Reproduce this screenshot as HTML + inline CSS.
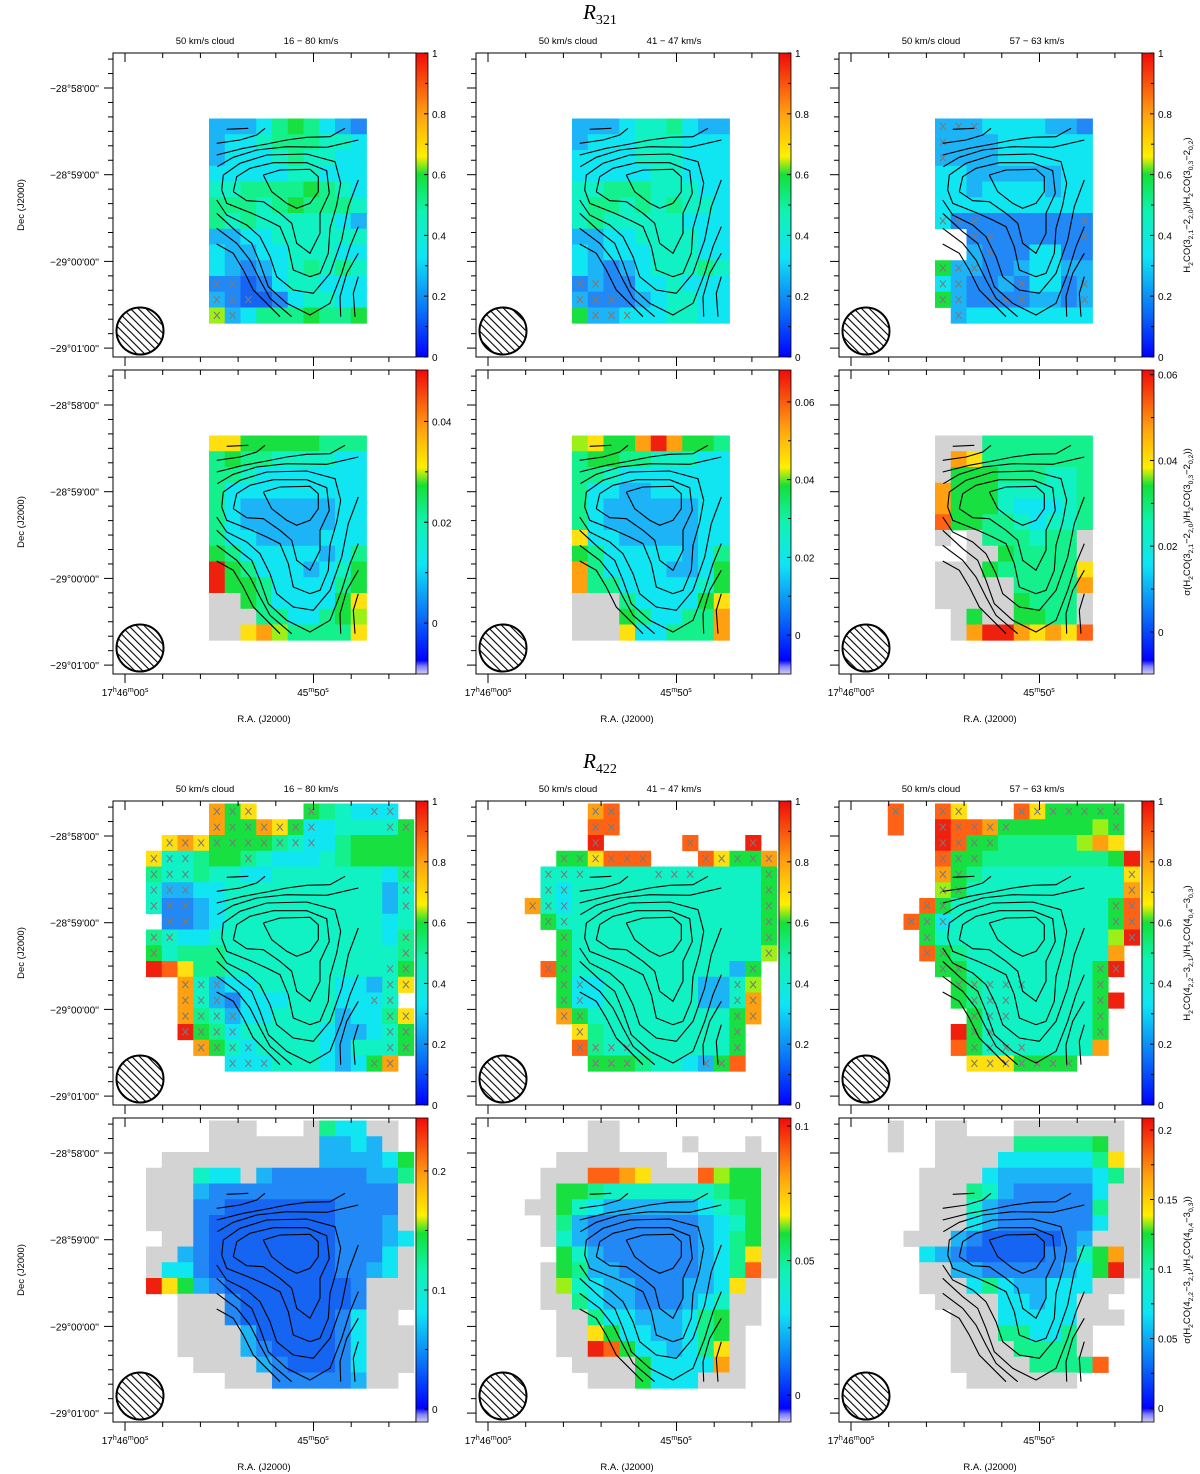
<!DOCTYPE html>
<html><head><meta charset="utf-8"><title>R321 / R422 ratio maps</title>
<style>
html,body{margin:0;padding:0;background:#fff;}
svg{display:block;font-family:"Liberation Sans",sans-serif;}
text{fill:#000;}
</style></head>
<body>
<svg id="fig" width="1200" height="1474" viewBox="0 0 1200 1474" xmlns="http://www.w3.org/2000/svg">
<defs>
<pattern id="hatch" patternUnits="userSpaceOnUse" width="5.5" height="5.5" patternTransform="rotate(-45)">
<rect width="5.5" height="5.5" fill="#fff"/><line x1="0" y1="0" x2="0" y2="5.5" stroke="#000" stroke-width="2.2"/>
</pattern>
<linearGradient id="cmap" x1="0" y1="1" x2="0" y2="0">
<stop offset="0" stop-color="#0000ff"/><stop offset="0.15" stop-color="#0a70f8"/><stop offset="0.33" stop-color="#10e4f4"/>
<stop offset="0.48" stop-color="#10f2b0"/><stop offset="0.6" stop-color="#14e038"/><stop offset="0.66" stop-color="#fff000"/>
<stop offset="0.8" stop-color="#ffa010"/><stop offset="1" stop-color="#f00a0a"/>
</linearGradient>
<linearGradient id="cmapS" x1="0" y1="1" x2="0" y2="0">
<stop offset="0" stop-color="#d0d0f0"/><stop offset="0.025" stop-color="#8080ff"/><stop offset="0.045" stop-color="#0000ff"/>
<stop offset="0.19" stop-color="#0a70f8"/><stop offset="0.36" stop-color="#10e4f4"/><stop offset="0.5" stop-color="#10f2b0"/>
<stop offset="0.62" stop-color="#14e038"/><stop offset="0.68" stop-color="#fff000"/><stop offset="0.81" stop-color="#ffa010"/><stop offset="1" stop-color="#f00a0a"/>
</linearGradient>
</defs>
<g id="layer"></g>
</svg>
<script>
// ---------- data: cell colour-level codes per panel (row "startCol:codes", spaces ignored) ----------
const gridR321a = ["","","","","6:lllcagacld","6:lcctaaattc","6:lccctattcc","6:cccccttccc","6:ttaaaagatc","6:aaatagaaat","6:atatttttcl","6:llcctttttt","6:cllcctttcc","6:cldlctatat","6:ddbdcttccc","6:ldbbdcttcc","6:hlcaaagaag"];
const gridR321b = ["","","","","6:lllcttacll","6:lccctttccc","6:cccctttccc","6:cccccttccc","6:ttaaatttcc","6:taatatattc","6:tatttttccc","6:llccttttcc","6:clccctttcc","6:cldlctttat","6:dlddcctccc","6:ldddlcttcc","6:gllcccttcc"];
const gridR321c = ["","","","","6:lllcccclld","6:llllcccccc","6:llllcccccc","6:ccllllllcc","6:cclcccclcc","6:cccccccccc","6:cddddddddd","6:..dddddddd","6:..ldddccdd","6:gllddlccll","6:clddldccdl","6:glddddlldl","6:.lcccccccc"];
const gridS321a = ["","","","","6:yygggggaaa","6:agaattttcc","6:aatccccccc","6:accccccccc","6:acllllllcc","6:acllllllcc","6:accllllccc","6:gacccccl ca","6:rgaccclctg","6:rggaccccag","6:xxgaccccgy","6:xxxaaccagh","6:xxyohaaaay"];
const gridS321b = ["","","","","6:hyggorogga","6:aggaatttcc","6:aatccccccc","6:accllccccc","6:acllllllcc","6:acllllllcc","6:ycclllllcc","6:gaccccclca","6:oaccccllcg","6:oaaccccctg","6:xxxaccccgy","6:xxxgaccaao","6:xxxyccaaao"];
const gridS321c = ["","","","","6:xxxaaaaaaa","6:xoyaaaaaaa","6:xgggaaatta","6:ogggttttta","6:ogggtcccta","6:Oggaatctta","6:x.xaaataax","6:..xxgaaaax","6:xxxgaaaaay","6:xxxxxaaaao","6:xxxxxgaaax","6:.xgxxggaax","6:.xorroyoyO"];
const gridR422a = ["6:ogy.. .gatc cc","6:oggoy gcctt ttg","3:yoygg ggatc caggg g","2:yttag gatcc ctagg gg","2:attat tcctt ttttt ca","2:tllcc ttttt ttttt lt","2:tddlc ttttt ttttt lt","3:ddlct ttttt tttt ct","2:atcct ttttt ttttt ca","2:gtaaa ttttt ttttt ta","2:rOyaa ttttt ttttt tg","4:otlcc ttttt cclty","4:otldc ccttt ccct","4:oatlc ctttt lccay","4:rgact ttttc llctg","5:ogtct tttcl tttg","7:ccctt tclcg o"];
const gridR422b = ["7:oO","7:OO","7:r.... .O... r","5:ggyOO O...O yggo","4:ttttt ttttt ttttg","4:tcttt ttttt ttttg","3:otctt ttttt ttttt g","4:gtttt ttttt ttttg","5:gtttt ttttt tttg","5:gtttt ttttt ttth","4:Ogttt ttttt ttlg","5:gcctt ttttl lth","5:gcctt ttttl lto","5:ogttt ttttt tgo","6:yattt ttttt g","6:Oattt ttttt g","7:gggat tclgO"];
const gridR422c = ["3:O..Oy ...Oy ggggg","3:O..rO Ooggg ggghg","6:rOgga aaaah oy","6:Oggaa aaaaa agr","6:ogatt ttttt tty","6:hgttt ttttt tto","5:Ogttt ttttt ttgO","4:Ogctt ttttt tttgO","5:gtttt ttttt tthr","5:Ogatt ttttt tto","6:ggttt ttttt gr","7:gattt ttttg","7:gattt ttttg r","8:gtttt tttg","7:rgttt ttttg","7:Ogttt tttto","8:yyygg gg"];
const gridS422a = ["6:xxx.. .xacc xx","6:xxxxx xxllc lx","3:xxxxx xxxxx llllc g","2:xxxtc cxldd ddddl la","2:xxxld ddddd ddddd dx","2:xxxdd bbbbb bbddd dx","2:xxxdb bbbbb bbddd lx","3:xxdbb bbbbb bdddl c","2:xxldb bbbbb bbddd cx","2:xccdb bbbbb bbddl cx","2:rygld bbbbb bbbdx xx","4:xxxdb bbbbb bdxxx","4:xxxdb bbbbb dcxx.","4:xxxxl bbbbb dcxxx","4:xxxxl dbbbb dcxxx","5:xxxxl dbbbd cxxx","7:xxxdd dddlx x"];
const gridS422b = ["7:xx","7:xx... .x... x","5:xxxxx xx..x xxxx","4:xxxOO oyxxx Ohggx","4:xggat ttttt taggx","3:xxgtc lllll lctag x","4:xaldd ddddd lctgx","4:xtldd ddddd lcagx","5:gtldd ddddl cayx","4:xgall ddddd lcaOx","4:xhtcl ldddl lcyx","4:xxacl ldddl ctxx","5:xxacc lllca gxx","5:xxygc cllca gx","5:xxrOg cclca yx","6:xxxxg cccco x","7:xxxgc ccxxx"];
const gridS422c = ["3:x..xx ...xx xxxxx","3:x..xx xxxaa aaagx","6:xxxxc ccccc ay","5:xxxxc lllll lcax","5:xxxat ldddd dcxx","5:xxxtl ddddd daxx","5:xxxcl ddddd dcxx","4:xxxld bbbbb dlxxx","5:cldbb bbbdd tgox","5:xxlld ddddl cgrx","5:xxxca cllcc cxx","6:xxxxc clccx x","7:xxxcc cccxx x","7:xxxaa ccax","7:xxxxa aaax","7:xxxxx aaaaO","8:xxxxx xx"];

// low signal-to-noise markers ("row:cols")
const marksR321a = ["14:6,7","15:6-8","16:6,7"];
const marksR321b = ["14:6,7","15:6-8","16:7-9"];
const marksR321c = ["4:6-8","5:6","6:6","10:6-8,15","11:8,9,15","12:9","13:6-8","14:6,7,11,15","15:6,7,9-11,15","16:7"];
const marksR422a = ["0:6-8,12,16,17","1:6-12,17,18","2:3-12","3:2-4,8","4:2-4,18","5:2-4,18","6:2-4,18","7:3,4","8:2,3,18","9:2,18","10:17,18","11:4-6,17,18","12:4-6,16,17","13:4-7,17,18","14:4-7,17,18","15:5-8,17,18","16:7-9,16,17"];
const marksR422b = ["0:7,8","1:7,8","2:7,13,17","3:5-10,14-18","4:4-6,11-13,18","5:4,5,18","6:3-5,18","7:4,5,18","8:5,18","9:5,18","10:4,5,17","11:5,6,16,17","12:5,6,16,17","13:5,6,16,17","14:6,16","15:6-9,16","16:7-9,14,15"];
const marksR422c = ["0:3,6,7,11-17","1:6-10,17","2:6-9","3:6-8","4:6,7,18","5:6,7,18","6:5,6,17,18","7:4-6,17,18","8:5,18","9:5,6","10:6,7,16,17","11:7-11,16","12:8-10,16","13:8-10,16","14:8,9,16","15:8-11","16:8-14"];

// colourbar ranges and tick labels
const cbMin = [0,0,0, -0.0101,-0.0100,-0.0098, 0,0,0, -0.0109,-0.0100,-0.0100];
const cbMax = [1,1,1, 0.0502,0.0682,0.0611, 1,1,1, 0.2445,0.1030,0.2086];
const cbTicks = [[0,0.2,0.4,0.6,0.8,1],[0,0.2,0.4,0.6,0.8,1],[0,0.2,0.4,0.6,0.8,1],
  [0,0.02,0.04],[0,0.02,0.04,0.06],[0,0.02,0.04,0.06],
  [0,0.2,0.4,0.6,0.8,1],[0,0.2,0.4,0.6,0.8,1],[0,0.2,0.4,0.6,0.8,1],
  [0,0.1,0.2],[0,0.05,0.1],[0,0.05,0.1,0.15,0.2]];
const cbLabels = [["0","0.2","0.4","0.6","0.8","1"],["0","0.2","0.4","0.6","0.8","1"],["0","0.2","0.4","0.6","0.8","1"],
  ["0","0.02","0.04"],["0","0.02","0.04","0.06"],["0","0.02","0.04","0.06"],
  ["0","0.2","0.4","0.6","0.8","1"],["0","0.2","0.4","0.6","0.8","1"],["0","0.2","0.4","0.6","0.8","1"],
  ["0","0.1","0.2"],["0","0.05","0.1"],["0","0.05","0.1","0.15","0.2"]];
const decLabels = ["−28°58'00''","−28°59'00''","−29°00'00''","−29°01'00''"];
const velLabels = ["16 − 80 km/s","41 − 47 km/s","57 − 63 km/s"];

const grids = [gridR321a,gridR321b,gridR321c,gridS321a,gridS321b,gridS321c,gridR422a,gridR422b,gridR422c,gridS422a,gridS422b,gridS422c];
const marks = [marksR321a,marksR321b,marksR321c,[],[],[],marksR422a,marksR422b,marksR422c,[],[],[]];

const COLS=[113,476,839], ROWS=[53,370,801,1118], W=303, H=304, CELL=15.75, CBW=12;
const colorOf={b:'#1565f2',d:'#2288f5',l:'#1cb4f6',c:'#10e6f2',t:'#10f2c4',a:'#14f08c',g:'#18e040',h:'#9cf018',y:'#fee010',o:'#ffa010',O:'#ff6214',r:'#f0200e',x:'#d3d3d3'};

// contour polylines (in reference-zoom units, shared by every panel)
const contours=[
 [[380,268],[445,265]],
 [[350,310],[420,300],[470,285],[495,265]],
 [[350,345],[430,325],[500,312],[560,300],[620,292],[690,290],[735,265]],
 [[352,380],[400,352],[470,330],[560,320],[680,322],[775,300]],
 [[490,405],[540,390],[630,388],[655,410],[655,455],[630,490],[590,505],[560,490],[515,455],[490,405]],
 [[400,455],[410,410],[450,385],[520,368],[620,368],[680,392],[688,460],[660,520],[660,580],[630,640],[590,610],[575,550],[540,520],[490,485],[440,482],[400,455]],
 [[365,450],[370,405],[420,370],[500,345],[620,342],[705,365],[722,430],[710,495],[690,565],[685,640],[660,700],[630,710],[580,690],[565,620],[540,560],[500,540],[455,520],[380,490],[365,450]],
 [[350,480],[380,525],[440,555],[480,590],[510,650],[530,710],[580,750],[640,760],[690,700],[725,600],[745,500],[775,420]],
 [[350,520],[410,575],[455,610],[480,670],[505,740],[560,790],[630,825],[690,790],[725,700],[750,620],[775,560]],
 [[350,565],[410,610],[450,660],[480,720],[510,775],[575,830]],
 [[350,612],[400,640],[430,690],[460,750],[540,830]],
 [[775,640],[740,700],[720,770],[722,830]],
 [[775,710],[760,760],[765,830]]
];

const NS='http://www.w3.org/2000/svg';
const layer=document.getElementById('layer');
function mk(tag,attrs,parent){const e=document.createElementNS(NS,tag);for(const k in attrs)e.setAttribute(k,attrs[k]);(parent||layer).appendChild(e);return e;}
function parseRow(s){if(!s)return null;const i=s.indexOf(':');return {start:+s.slice(0,i),codes:s.slice(i+1).replace(/ /g,'')};}
function parseCols(list){const out=[];list.split(',').forEach(p=>{if(p.indexOf('-')>=0){const [a,b]=p.split('-').map(Number);for(let k=a;k<=b;k++)out.push(k);}else out.push(+p);});return out;}
function fmtSub(el,spec,fs){
  const re=/_\{([^}]*)\}/g;let last=0,m,shift=0;
  function add(txt,sub){if(!txt)return;const t=document.createElementNS(NS,'tspan');
    const dy=(sub?3:0)-shift;shift=sub?3:0;if(dy)t.setAttribute('dy',dy);if(sub)t.setAttribute('font-size',fs*0.72);
    t.textContent=txt;el.appendChild(t);}
  while((m=re.exec(spec))){add(spec.slice(last,m.index),false);add(m[1],true);last=re.lastIndex;}
  add(spec.slice(last),false);
}

// big titles
[['321',19],['422',768]].forEach(([sub,y])=>{
  const t=mk('text',{x:600,y:y,'text-anchor':'middle','font-family':'Liberation Serif, serif','font-size':21,'font-style':'italic'});
  
  
  t.textContent='R';
  const s=document.createElementNS(NS,'tspan');s.setAttribute('dy',5);s.setAttribute('font-size',14);s.setAttribute('font-style','normal');s.textContent=sub;t.appendChild(s);
});

const rightTitles=["H_{2}CO(3_{2,1}−2_{2,0})/H_{2}CO(3_{0,3}−2_{0,2})","σ(H_{2}CO(3_{2,1}−2_{2,0})/H_{2}CO(3_{0,3}−2_{0,2}))",
 "H_{2}CO(4_{2,2}−3_{2,1})/H_{2}CO(4_{0,4}−3_{0,3})","σ(H_{2}CO(4_{2,2}−3_{2,1})/H_{2}CO(4_{0,4}−3_{0,3}))"];

for(let pr=0;pr<4;pr++){
 for(let pc=0;pc<3;pc++){
  const p=pr*3+pc, L=COLS[pc], T=ROWS[pr], ox=L+1.5, oy=T+2.5;
  const g=mk('g',{});
  
  
  grids[p].forEach((row,r)=>{const pr_=parseRow(row);if(!pr_)return;
    for(let i=0;i<pr_.codes.length;i++){const ch=pr_.codes[i];const c=pr_.start+i;if(!colorOf[ch]||c>18)continue;
      const rc=mk('rect',{x:(ox+c*CELL).toFixed(2),y:(oy+r*CELL).toFixed(2),width:CELL+0.4,height:CELL+0.4,fill:colorOf[ch]},g);
      
      
    }});
  marks[p].forEach(s=>{const i=s.indexOf(':');const r=+s.slice(0,i);parseCols(s.slice(i+1)).forEach(c=>{
    const cx=ox+(c+0.5)*CELL, cy=oy+(r+0.5)*CELL;
    const m=mk('path',{d:`M${cx-3} ${cy-3.5}L${cx+3} ${cy+3.5}M${cx+3} ${cy-3.5}L${cx-3} ${cy+3.5}`,stroke:'#7a7a7a','stroke-width':1,fill:'none'},g);
    
    
  });});
  contours.forEach(line=>{
    const d=line.map((pt,i)=>(i?'L':'M')+(L+(pt[0]-39)/3).toFixed(1)+' '+(T+(pt[1]-39)/3).toFixed(1)).join('');
    const pth=mk('path',{d:d,fill:'none',stroke:'#000','stroke-width':1.1},g);
    
    
  });
  const bm=mk('circle',{cx:L+27,cy:T+278,r:23.5,fill:'url(#hatch)',stroke:'#000','stroke-width':2},g);
  
  
  const fr=mk('rect',{x:L,y:T,width:W,height:H,fill:'none',stroke:'#000','stroke-width':1},g);
  
  
  for(let k=-2;k<=18;k++){const y=T+35+14.45*k;if(y<T+3||y>T+H-3)continue;const maj=(k%6===0);
    const tk=mk('line',{x1:L-(maj?9:5),x2:L,y1:y,y2:y,stroke:'#000','stroke-width':1},g);
    
    
  }
  for(let k=0;k<8;k++){const x=L+12+37.7*k;const maj=(k===0||k===5);
    const tb=mk('line',{x1:x,x2:x,y1:T+H,y2:T+H+(maj?9:5),stroke:'#000','stroke-width':1},g);
    
    
    const tt=mk('line',{x1:x,x2:x,y1:T,y2:T+(maj?9:5),stroke:'#000','stroke-width':1},g);
    
    
  }
  const cbx=L+W;
  const cb=mk('rect',{x:cbx,y:T,width:CBW,height:H,fill:(pr%2?'url(#cmapS)':'url(#cmap)'),stroke:'#000','stroke-width':0.8},g);
  
  
  const vy=v=>T+H-(v-cbMin[p])/(cbMax[p]-cbMin[p])*H;
  cbTicks[p].forEach((v,i)=>{
    const y=vy(v);
    const tk=mk('line',{x1:cbx+CBW-4,x2:cbx+CBW,y1:y,y2:y,stroke:'#000','stroke-width':1},g);
    
    
    const lb=mk('text',{x:cbx+CBW+4,y:y+4,'font-size':10},g);
    
    
    lb.textContent=cbLabels[p][i];
    if(i<cbTicks[p].length-1){const ym=vy((v+cbTicks[p][i+1])/2);
      const mt=mk('line',{x1:cbx+CBW-3,x2:cbx+CBW,y1:ym,y2:ym,stroke:'#000','stroke-width':1},g);
      
      }
  });
  if(pr===0||pr===2){
    const st=mk('text',{x:L+92,y:T-9,'text-anchor':'middle','font-size':9.5},g);
    
    
    st.textContent='50 km/s cloud';
    const sv=mk('text',{x:L+198,y:T-9,'text-anchor':'middle','font-size':9.5},g);
    
    
    sv.textContent=velLabels[pc];
  }
  if(pc===0){
    decLabels.forEach((s,i)=>{const y=T+35+14.45*6*i;
      const dl=mk('text',{x:L-14,y:y+4,'text-anchor':'end','font-size':10},g);
      
      
      dl.textContent=s;});
    const yl=mk('text',{transform:`translate(24,${T+H/2}) rotate(-90)`,'text-anchor':'middle','font-size':9.5},g);
    
    
    yl.textContent='Dec (J2000)';
  }
  if(pr===1||pr===3){
    const x0=mk('text',{x:L+12,y:T+H+22,'text-anchor':'middle','font-size':10},g);
    
    
    x0.innerHTML='17<tspan dy="-4" font-size="7">h</tspan><tspan dy="4">46</tspan><tspan dy="-4" font-size="7">m</tspan><tspan dy="4">00</tspan><tspan dy="-4" font-size="7">s</tspan>';
    const x1=mk('text',{x:L+200,y:T+H+22,'text-anchor':'middle','font-size':10},g);
    
    
    x1.innerHTML='45<tspan dy="-4" font-size="7">m</tspan><tspan dy="4">50</tspan><tspan dy="-4" font-size="7">s</tspan>';
    const xl=mk('text',{x:L+151,y:T+H+48,'text-anchor':'middle','font-size':9.5},g);
    
    
    xl.textContent='R.A. (J2000)';
  }
  if(pc===2){
    const rt=mk('text',{transform:`translate(1190,${T+H/2}) rotate(-90)`,'text-anchor':'middle','font-size':9.5},g);
    
    
    fmtSub(rt,rightTitles[pr],9.5);
  }
 }
}
</script>
</body></html>
